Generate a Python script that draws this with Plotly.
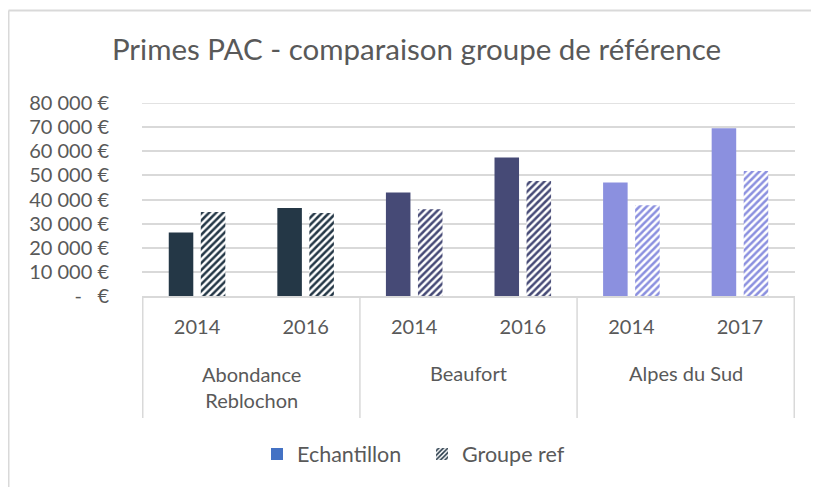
import plotly.graph_objects as go

group_names = ["Abondance<br>Reblochon", "Beaufort", "Alpes du Sud"]
groups = ["Abondance<br>Reblochon", "Abondance<br>Reblochon", "Beaufort", "Beaufort", "Alpes du Sud", "Alpes du Sud"]
years = ["2014", "2016", "2014", "2016", "2014", "2017"]
echantillon = [26300, 36500, 42900, 57400, 47000, 69500]
groupe_ref = [34800, 34400, 36000, 47700, 37600, 51800]
bar_colors = ["#243746", "#243746", "#464A76", "#464A76", "#8B90DF", "#8B90DF"]
tick_vals = [0, 10000, 20000, 30000, 40000, 50000, 60000, 70000, 80000]
tick_text = ["-\u00a0\u00a0\u00a0€", "10\u00a0000\u00a0€", "20\u00a0000\u00a0€", "30\u00a0000\u00a0€",
             "40\u00a0000\u00a0€", "50\u00a0000\u00a0€", "60\u00a0000\u00a0€", "70\u00a0000\u00a0€", "80\u00a0000\u00a0€"]
y_max = 80000

FONT = "Lato, 'Liberation Sans', sans-serif"
TXT = "#595959"
GRID = "#D9D9D9"

# unique category keys (group + year)
keys = [g.replace("<br>", " ") + " " + y for g, y in zip(groups, years)]

W, H = 811, 479
L, R, T, B = 134, 24, 95, 191
PW, PH = W - L - R, H - T - B

fig = go.Figure()
fig.add_trace(go.Bar(
    x=keys, y=echantillon, name="Echantillon", showlegend=False, offsetgroup="e",
    marker=dict(color=bar_colors, line=dict(width=0)),
    hovertemplate="%{y}<extra>Echantillon</extra>",
))
fig.add_trace(go.Bar(
    x=keys, y=groupe_ref, name="Groupe ref", showlegend=False, offsetgroup="g",
    marker=dict(color="white", line=dict(width=0),
                pattern=dict(shape="/", fgcolor=bar_colors, bgcolor="white", size=5, solidity=0.5, fillmode="replace")),
    hovertemplate="%{y}<extra>Groupe ref</extra>",
))
# legend-only entries
fig.add_trace(go.Bar(
    x=[keys[0]], y=[0], name="Echantillon", offsetgroup="e",
    marker=dict(color="#4472C4", line=dict(width=0)), hoverinfo="skip",
))
fig.add_trace(go.Bar(
    x=[keys[0]], y=[0], name="Groupe ref", offsetgroup="g",
    marker=dict(color="white", line=dict(width=0),
                pattern=dict(shape="/", fgcolor="#243746", bgcolor="white", size=4, solidity=0.5, fillmode="replace")),
    hoverinfo="skip",
))

def py(Y):  # screen y (page) -> paper y
    return (T + 8 + PH - Y) / PH

def px(X):  # screen x (page) -> paper x
    return (X - 8 - L) / PW

annotations = []
for i, g in enumerate(group_names):
    idx = [k for k, gg in enumerate(groups) if gg == g]
    center = sum(idx) / len(idx)
    annotations.append(dict(
        x=center, xref="x", y=py(386.5) if "<br>" in g else py(373), yref="paper",
        text=g, showarrow=False, xanchor="center", yanchor="middle",
        font=dict(size=20, color=TXT, family=FONT),
    ))

shapes = []
for xd in [-0.5, 1.5, 3.5, 5.5]:
    shapes.append(dict(type="line", xref="x", yref="paper", x0=xd, x1=xd, y0=0, y1=py(418),
                       line=dict(color=GRID, width=1.5)))
# top gridline (on the plot edge)
shapes.append(dict(type="line", xref="paper", yref="y", x0=0, x1=1, y0=y_max, y1=y_max,
                   line=dict(color=GRID, width=1.5), layer="below"))
# outer chart frame (top and left edges)
shapes.append(dict(type="line", xref="paper", yref="paper", x0=px(8.5), x1=px(830), y0=py(10.5), y1=py(10.5),
                   line=dict(color=GRID, width=2)))
shapes.append(dict(type="line", xref="paper", yref="paper", x0=px(8.5), x1=px(8.5), y0=py(10.5), y1=py(500),
                   line=dict(color=GRID, width=2)))

fig.update_layout(
    width=W, height=H,
    margin=dict(l=L, r=R, t=T, b=B, autoexpand=False),
    paper_bgcolor="white", plot_bgcolor="white",
    barmode="group", bargap=0.41, bargroupgap=0.234,
    font=dict(family=FONT, color=TXT, size=20),
    title=dict(text="Primes PAC - comparaison groupe de référence", x=(416.5 - 8) / W, xanchor="center",
               y=1 - (50 - 8) / H, yanchor="middle", font=dict(size=29.5, color=TXT, family=FONT)),
    legend=dict(orientation="h", x=px(422), xanchor="center", y=py(454), yanchor="middle",
                font=dict(size=21.5, color=TXT, family=FONT), traceorder="normal",
                entrywidth=120, entrywidthmode="pixels"),
    annotations=annotations,
    shapes=shapes,
)
fig.update_xaxes(
    type="category", showline=True, linecolor=GRID, linewidth=1.5,
    tickvals=keys, ticktext=years,
    ticks="outside", ticklen=12, tickcolor="rgba(0,0,0,0)",
    tickfont=dict(size=20, color=TXT), showgrid=False,
)
fig.update_yaxes(
    range=[0, y_max], tickvals=tick_vals, ticktext=tick_text,
    showgrid=True, gridcolor=GRID, gridwidth=1.5, zeroline=False,
    ticks="outside", ticklen=28, tickcolor="rgba(0,0,0,0)",
    tickfont=dict(size=20, color=TXT),
)
fig.write_html("out.html")
